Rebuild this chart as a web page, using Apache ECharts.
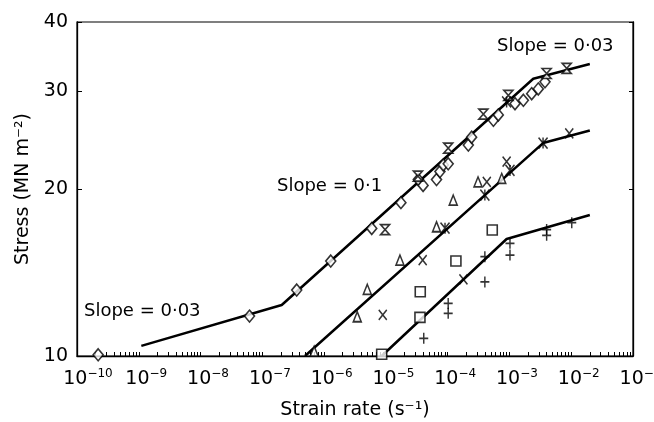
<!DOCTYPE html>
<html>
<head>
<meta charset="utf-8">
<script src="https://cdn.jsdelivr.net/npm/echarts@6/dist/echarts.min.js"></script>
<style>
html, body { margin: 0; padding: 0; background: #fff; }
#chart { width: 654px; height: 422px; }
</style>
</head>
<body>
<div id="chart"></div>
<script>
// fitted lines  [strain rate (s^-1), stress (MN m^-2)]
let line1 = [[1.1e-9, 10.43], [2.06e-7, 12.36], [2.43e-3, 31.6], [2.0e-2, 33.6]];
let line2 = [[4.9e-7, 10.0], [3.5e-3, 24.2], [2.0e-2, 25.5]];
let line3 = [[8.55e-6, 10.0], [9.0e-4, 16.25], [2.0e-2, 17.95]];

// measured points
let diamonds = [
    [2.2e-10, 10.05], [6.2e-8, 11.8], [3.6e-7, 13.15], [1.28e-6, 14.83], [5.9e-6, 16.98],
    [1.75e-5, 18.9], [3.35e-5, 20.8], [4.0e-5, 20.3], [6.6e-5, 20.8], [7.5e-5, 21.5],
    [8.5e-5, 22.1], [1.02e-4, 22.2], [2.16e-4, 24.0], [2.44e-4, 24.8], [5.5e-4, 26.6],
    [6.6e-4, 27.2], [1.23e-3, 28.5], [1.68e-3, 28.9], [2.29e-3, 29.7], [2.93e-3, 30.3],
    [3.76e-3, 31.2]
];
let hourglass = [
    [9.7e-6, 16.9], [3.3e-5, 21.1], [1.02e-4, 23.7], [3.78e-4, 27.3], [9.6e-4, 29.5],
    [4.0e-3, 32.3], [8.45e-3, 33.0]
];
let triangles = [
    [6.9e-7, 10.2], [3.44e-6, 11.77], [5.0e-6, 13.19], [1.69e-5, 14.89], [6.6e-5, 17.1],
    [1.23e-4, 19.1], [3.1e-4, 20.6], [7.5e-4, 20.9]
];
let crosses = [
    [8.9e-6, 11.86], [3.94e-5, 14.89], [1.8e-4, 13.75], [4.3e-4, 20.6], [9.0e-4, 22.4],
    [9.3e-3, 25.2]
];
let stars = [
    [9.06e-5, 17.0], [4.0e-4, 19.5], [1.02e-3, 21.6], [3.5e-3, 24.2], [9.0e-4, 28.7]
];
let squares = [
    [8.55e-6, 10.07], [3.56e-5, 11.74], [3.6e-5, 13.06], [1.36e-4, 14.83], [5.27e-4, 16.87]
];
let pluses = [
    [4.1e-5, 10.76], [1.02e-4, 12.44], [1.02e-4, 11.94], [4.0e-4, 13.6], [4.0e-4, 15.1],
    [1.02e-3, 15.96], [1.02e-3, 15.2], [4.0e-3, 16.9], [4.0e-3, 16.5], [1.02e-2, 17.39]
];

// axis ticks
let xDecades = [1e-10, 1e-9, 1e-8, 1e-7, 1e-6, 1e-5, 1e-4, 1e-3, 1e-2, 1e-1];
let yTicks = [10, 20, 30, 40];

// minor tick positions 1..9 in each decade
let xMinor = [];
for (let d = -10; d < -1; d++) {
    for (let k = 1; k < 10; k++) xMinor.push(k * Math.pow(10, d));
}
xMinor.push(0.1);

let FONT = 'DejaVu Sans';

let hollow = { color: '#fff', borderColor: '#000', borderWidth: 1.6 };
let strokeOnly = { color: 'rgba(0,0,0,0)', borderColor: '#000', borderWidth: 1.6 };

function markSeries(name, data, symbol, size, style) {
    return {
        name: name, type: 'scatter', data: data, symbol: symbol, symbolSize: size,
        itemStyle: style, z: 4, silent: true
    };
}
function fitLine(name, data) {
    return {
        name: name, type: 'line', data: data, symbol: 'none', z: 3, silent: true,
        lineStyle: { color: '#000', width: 2.5 }
    };
}

let chart = echarts.init(document.getElementById('chart'));
let option = {
    animation: false,
    backgroundColor: '#fff',
    textStyle: { fontFamily: FONT, color: '#000' },
    grid: {
        left: 77, right: 21, top: 22, bottom: 66, show: true, borderColor: '#000', borderWidth: 1.2,
        containLabel: false, outerBoundsMode: 'none'
    },
    xAxis: {
        type: 'log', logBase: 10, min: 1e-10, max: 0.1,
        name: 'Strain rate (s⁻¹)', nameLocation: 'middle', nameGap: 45,
        nameTextStyle: { fontFamily: FONT, fontSize: 19, color: '#000' },
        axisLine: { lineStyle: { color: '#000', width: 1.3 } },
        axisTick: { inside: true, length: 4, customValues: xMinor, lineStyle: { color: '#000', width: 1 } },
        splitLine: { show: false },
        axisLabel: {
            customValues: xDecades, margin: 12, color: '#000', fontFamily: FONT, fontSize: 19,
            hideOverlap: false,
            formatter: function (v) {
                let e = Math.round(Math.log10(v));
                let pad = ('' + e).length > 2 ? 'p3' : 'p2';
                return '{' + pad + '|}{b|10}{s|' + String(e).replace('-', '−') + '}';
            },
            rich: {
                b: { fontSize: 19, fontFamily: FONT, color: '#000' },
                s: { fontSize: 12, fontFamily: FONT, color: '#000', padding: [0, 0, 11, 0] },
                p2: { width: 15 },
                p3: { width: 22 }
            }
        }
    },
    yAxis: [{
        type: 'log', logBase: 10, min: 10, max: 40,
        name: 'Stress (MN m⁻²)', nameLocation: 'middle', nameGap: 44,
        nameTextStyle: { fontFamily: FONT, fontSize: 19, color: '#000' },
        axisLine: { lineStyle: { color: '#000', width: 1.3 } },
        axisTick: { inside: true, length: 5, customValues: yTicks, lineStyle: { color: '#000', width: 1 } },
        splitLine: { show: false },
        axisLabel: { customValues: yTicks, margin: 9, fontSize: 19, color: '#000', fontFamily: FONT }
    }, {
        type: 'log', logBase: 10, min: 10, max: 40, position: 'right',
        axisLine: { show: true, lineStyle: { color: '#000', width: 1.3 } },
        axisTick: { inside: true, length: 4, customValues: yTicks, lineStyle: { color: '#000', width: 1 } },
        splitLine: { show: false },
        axisLabel: { show: false }
    }],
    graphic: [
        { type: 'text', left: 497, top: 37, style: { text: 'Slope = 0·03', font: '18px "DejaVu Sans"', fill: '#000' } },
        { type: 'text', left: 277, top: 177, style: { text: 'Slope = 0·1', font: '18px "DejaVu Sans"', fill: '#000' } },
        { type: 'text', left: 84, top: 302, style: { text: 'Slope = 0·03', font: '18px "DejaVu Sans"', fill: '#000' } }
    ],
    series: [
        fitLine('line1', line1),
        fitLine('line2', line2),
        fitLine('line3', line3),
        markSeries('diamond', diamonds, 'diamond', [10, 12], hollow),
        markSeries('hourglass', hourglass, 'path://M0,0L10,0L0,10L10,10Z', [9, 10], hollow),
        markSeries('triangle', triangles, 'triangle', [8, 10], hollow),
        markSeries('x', crosses, 'path://M0,0L10,12M10,0L0,12', [8, 10], strokeOnly),
        markSeries('star', stars, 'path://M0,0L10,12M10,0L0,12M5,0L5,12', [9, 11], strokeOnly),
        markSeries('square', squares, 'rect', [10, 10], hollow),
        markSeries('plus', pluses, 'path://M5,0L5,10M0,5L10,5', [9, 11], strokeOnly)
    ]
};
chart.setOption(option);
</script>
</body>
</html>
